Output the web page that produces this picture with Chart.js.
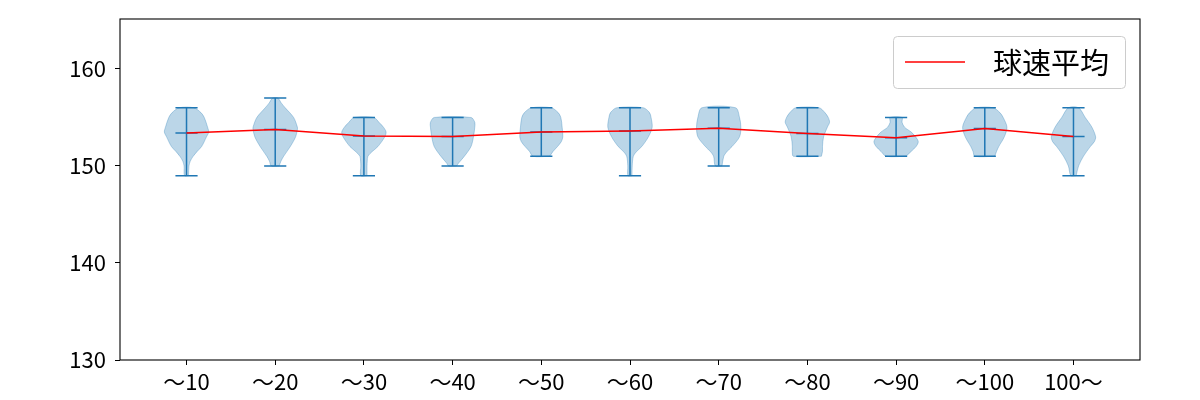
<!DOCTYPE html>
<html>
<head>
<meta charset="utf-8">
<script src="https://cdn.jsdelivr.net/npm/chart.js@4.4.1/dist/chart.umd.min.js"></script>
<style>
  html, body { margin: 0; padding: 0; background: #fff; }
  #wrap { width: 1200px; height: 400px; }
</style>
</head>
<body>
<div id="wrap"><canvas id="chart" width="1200" height="400"></canvas></div>
<script>
// 区分（球数）
const categories = ['～10', '～20', '～30', '～40', '～50', '～60', '～70', '～80', '～90', '～100', '100～'];

// 球速 最小 / 最大 / 平均
const speedMin = [149, 150, 149, 150, 151, 149, 150, 151, 151, 151, 149];
const speedMax = [156, 157, 155, 155, 156, 156, 156, 156, 155, 156, 156];
const speedMean = [153.4, 153.75, 153.1, 153.05, 153.5, 153.6, 153.9, 153.35, 152.9, 153.85, 153.05];

// バイオリンの形（球速ごとの相対密度）
const violinY = [
  [149, 150, 150.5, 151, 151.5, 152, 153, 153.5, 154, 155, 155.5, 156],
  [150, 150.5, 151, 152, 153, 153.75, 154, 155, 156, 156.5, 157],
  [149, 150, 150.5, 151, 151.5, 152, 153, 153.5, 154, 154.5, 155],
  [150, 150.3, 151, 152, 153, 154, 154.5, 155],
  [151, 151.5, 152, 152.5, 153, 154, 155, 155.5, 156],
  [149, 150, 151, 151.5, 152, 153, 154, 155, 155.5, 156],
  [150, 151, 151.5, 152, 153, 154, 155, 156],
  [151, 151.5, 152, 153, 154, 154.5, 155, 155.5, 156],
  [151, 151.5, 152, 152.5, 153, 153.5, 154, 154.5, 155],
  [151, 151.5, 152, 153, 154, 155, 155.5, 156],
  [149, 150, 151, 152, 152.5, 153, 154, 155, 156]
];
const violinW = [
  [0.09, 0.11, 0.17, 0.3, 0.48, 0.68, 0.9, 1.0, 0.95, 0.8, 0.65, 0.33],
  [0.18, 0.26, 0.38, 0.68, 0.92, 1.0, 1.0, 0.83, 0.45, 0.27, 0.12],
  [0.14, 0.14, 0.15, 0.18, 0.38, 0.63, 0.94, 1.0, 0.88, 0.68, 0.45],
  [0.18, 0.27, 0.53, 0.83, 0.94, 1.0, 1.0, 0.83],
  [0.38, 0.53, 0.73, 0.9, 0.97, 0.94, 0.88, 0.76, 0.45],
  [0.09, 0.1, 0.15, 0.3, 0.53, 0.83, 1.0, 0.95, 0.88, 0.6],
  [0.15, 0.23, 0.38, 0.6, 0.94, 1.0, 0.94, 0.76],
  [0.63, 0.68, 0.68, 0.73, 0.9, 1.0, 0.94, 0.79, 0.53],
  [0.45, 0.68, 0.9, 1.0, 0.88, 0.68, 0.38, 0.27, 0.27],
  [0.45, 0.53, 0.63, 0.88, 1.0, 0.83, 0.68, 0.38],
  [0.12, 0.23, 0.45, 0.76, 0.94, 1.0, 0.83, 0.53, 0.23]
];

const yTicks = [130, 140, 150, 160];

const BLUE = '#1f77b4';
const VIOLIN_FILL = 'rgba(31, 119, 180, 0.3)';
const HALF_WIDTH = 0.25;   // バイオリン最大半幅（x単位）
const CAP = 0.125;         // ヒゲの横線半幅

// バイオリン本体（閉じた多角形）
function violinDataset(i) {
  const pos = i + 1;
  const ys = violinY[i];
  const ws = violinW[i];
  const pts = [];
  for (let k = 0; k < ys.length; k++) pts.push({ x: pos + ws[k] * HALF_WIDTH, y: ys[k] });
  for (let k = ys.length - 1; k >= 0; k--) pts.push({ x: pos - ws[k] * HALF_WIDTH, y: ys[k] });
  pts.push(pts[0]);
  return {
    data: pts,
    showLine: true,
    fill: 'shape',
    backgroundColor: VIOLIN_FILL,
    borderColor: VIOLIN_FILL,
    borderWidth: 1,
    tension: 0.3,
    pointRadius: 0,
    order: 3
  };
}

// 最小・最大・平均の横線と縦線
function whiskerDataset(i) {
  const pos = i + 1;
  const gap = { x: pos, y: null };
  return {
    data: [
      { x: pos - CAP, y: speedMin[i] }, { x: pos + CAP, y: speedMin[i] }, gap,
      { x: pos - CAP, y: speedMax[i] }, { x: pos + CAP, y: speedMax[i] }, gap,
      { x: pos - CAP, y: speedMean[i] }, { x: pos + CAP, y: speedMean[i] }, gap,
      { x: pos, y: speedMin[i] }, { x: pos, y: speedMax[i] }
    ],
    showLine: true,
    spanGaps: false,
    fill: false,
    borderColor: BLUE,
    borderWidth: 1.5,
    pointRadius: 0,
    order: 2
  };
}

const meanDataset = {
  label: '球速平均',
  data: speedMean.map((v, i) => ({ x: i + 1, y: v })),
  showLine: true,
  fill: false,
  borderColor: '#ff0000',
  borderWidth: 1.5,
  pointRadius: 0,
  order: 1
};

const datasets = [
  ...categories.map((_, i) => violinDataset(i)),
  ...categories.map((_, i) => whiskerDataset(i)),
  meanDataset
];

// 枠線
const framePlugin = {
  id: 'frame',
  afterDraw(chart) {
    const { ctx, chartArea: a } = chart;
    ctx.save();
    ctx.strokeStyle = '#000';
    ctx.lineWidth = 1.1;
    ctx.strokeRect(a.left, a.top, a.right - a.left, a.bottom - a.top);
    ctx.restore();
  }
};

// 凡例（右上・枠付き）
const legendPlugin = {
  id: 'boxLegend',
  afterDraw(chart) {
    const { ctx, chartArea: a } = chart;
    const ds = chart.data.datasets.find(d => d.label);
    ctx.save();
    ctx.font = '29px "Noto Sans CJK JP"';
    const tw = ctx.measureText(ds.label).width;
    const w = 100 + tw + 16;
    const h = 52;
    const x = a.right - 15 - w;
    const y = a.top + 17;
    ctx.beginPath();
    ctx.roundRect(x + 0.5, y + 0.5, w, h, 4);
    ctx.fillStyle = 'rgba(255,255,255,0.8)';
    ctx.fill();
    ctx.strokeStyle = '#cccccc';
    ctx.lineWidth = 1;
    ctx.stroke();
    ctx.beginPath();
    ctx.moveTo(x + 12, y + h / 2);
    ctx.lineTo(x + 72, y + h / 2);
    ctx.strokeStyle = ds.borderColor;
    ctx.lineWidth = ds.borderWidth;
    ctx.stroke();
    ctx.fillStyle = '#000';
    ctx.textBaseline = 'middle';
    ctx.fillText(ds.label, x + 100, y + h / 2 + 1);
    ctx.restore();
  }
};

const tickFont = { family: '"Noto Sans CJK JP"', size: 22 };

new Chart(document.getElementById('chart'), {
  type: 'scatter',
  data: { datasets: datasets },
  options: {
    responsive: false,
    animation: false,
    events: [],
    layout: { padding: { top: 19, right: 60, left: 0, bottom: 0 } },
    plugins: {
      legend: { display: false },
      tooltip: { enabled: false }
    },
    scales: {
      x: {
        type: 'linear',
        min: 0.25,
        max: 11.75,
        afterBuildTicks: axis => { axis.ticks = categories.map((_, i) => ({ value: i + 1 })); },
        afterFit: axis => { axis.height = 40; axis.paddingLeft = 0; axis.paddingRight = 0; },
        ticks: {
          autoSkip: false,
          maxRotation: 0,
          padding: 3,
          color: '#000',
          font: tickFont,
          callback: (v, i) => categories[i]
        },
        grid: { drawOnChartArea: false, drawTicks: true, tickLength: 5, color: '#000' },
        border: { display: false }
      },
      y: {
        min: 130,
        max: 165.15,
        afterBuildTicks: axis => { axis.ticks = yTicks.map(v => ({ value: v })); },
        afterFit: axis => { axis.width = 120; axis.paddingTop = 0; axis.paddingBottom = 0; },
        ticks: { padding: 9, color: '#000', font: tickFont },
        grid: { drawOnChartArea: false, drawTicks: true, tickLength: 5, color: '#000' },
        border: { display: false }
      }
    }
  },
  plugins: [framePlugin, legendPlugin]
});
</script>
</body>
</html>
